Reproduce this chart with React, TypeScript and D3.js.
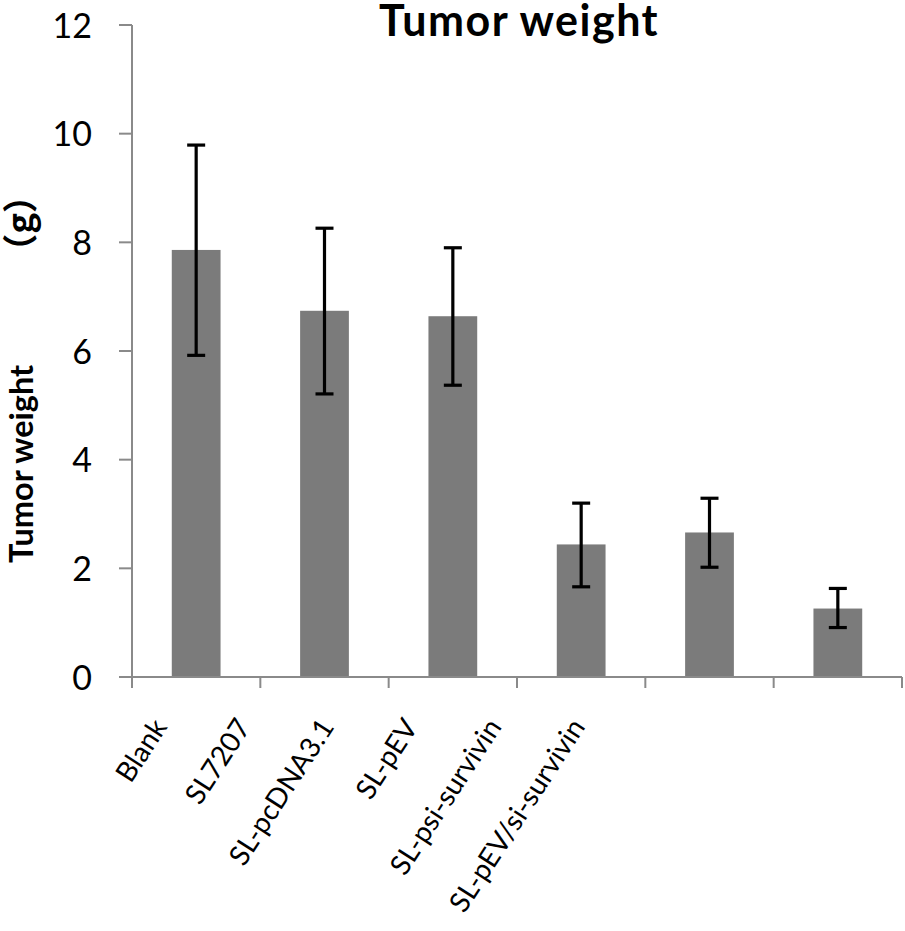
import * as d3 from 'd3';

const categories = ['Blank', 'SL7207', 'SL-pcDNA3.1', 'SL-pEV', 'SL-psi-survivin', 'SL-pEV/si-survivin'];
const means = [7.86, 6.74, 6.64, 2.44, 2.66, 1.26];
const errLow = [5.92, 5.21, 5.37, 1.66, 2.02, 0.91];
const errHigh = [9.79, 8.26, 7.9, 3.2, 3.29, 1.63];
const yTicks = [0, 2, 4, 6, 8, 10, 12];

const W = 905;
const H = 931;
const FONT = 'Lato, Carlito, Calibri, sans-serif';
const CJK = "'Noto Sans CJK SC', sans-serif";

export default function App() {
  const left = 132;
  const right = 902;
  const top = 25;
  const bottom = 677;

  const x = d3.scaleBand<string>().domain(categories).range([left, right]).paddingInner(0.62).paddingOuter(0.31);
  const y = d3.scaleLinear().domain([0, 12]).range([bottom, top]);
  // labels sit on a tighter spacing than the bars in the original figure
  const labelX = d3.scalePoint<string>().domain(categories).range([168, 586]);
  const step = (right - left) / categories.length;
  const boundaries = d3.range(categories.length + 1).map((i) => left + i * step);
  const axisColor = '#8a8a8a';
  const capW = 9;

  return (
    <svg width={W} height={H} style={{ position: 'absolute', left: 0, top: 0, background: '#fff' }}>
      <text
        x={519}
        y={36}
        textAnchor="middle"
        fontFamily={FONT}
        fontWeight="bold"
        fontSize={43}
        letterSpacing={1.5}
        fill="#000"
      >
        Tumor weight
      </text>

      <text
        transform={`translate(33,563) rotate(-90)`}
        textAnchor="start"
        fontFamily={FONT}
        fontWeight="bold"
        fontSize={32.5}
        fill="#000"
      >
        Tumor weight
        <tspan fontFamily={CJK} fontSize={35} dx={96}>
          （g）
        </tspan>
      </text>

      {categories.map((c, i) => (
        <rect key={c} x={x(c)} y={y(means[i])} width={x.bandwidth()} height={bottom - y(means[i])} fill="#7b7b7b" />
      ))}

      {categories.map((c, i) => {
        const cx = (x(c) ?? 0) + x.bandwidth() / 2;
        return (
          <g key={c} stroke="#000" strokeWidth={3.2}>
            <line x1={cx} x2={cx} y1={y(errLow[i])} y2={y(errHigh[i])} />
            <line x1={cx - capW} x2={cx + capW} y1={y(errLow[i])} y2={y(errLow[i])} />
            <line x1={cx - capW} x2={cx + capW} y1={y(errHigh[i])} y2={y(errHigh[i])} />
          </g>
        );
      })}

      <g stroke={axisColor} strokeWidth={2}>
        <line x1={left} x2={left} y1={top} y2={bottom} />
        <line x1={left - 13} x2={right} y1={bottom} y2={bottom} />
        {yTicks.map((t) => (
          <line key={t} x1={left - 13} x2={left} y1={y(t)} y2={y(t)} />
        ))}
        {boundaries.map((b, i) => (
          <line key={i} x1={b} x2={b} y1={bottom} y2={bottom + 11} />
        ))}
      </g>

      {yTicks.map((t) => (
        <text key={t} x={92} y={y(t) + 12.5} textAnchor="end" fontFamily={FONT} fontSize={34} fill="#000">
          {t}
        </text>
      ))}

      {categories.map((c) => (
        <text
          key={c}
          transform={`translate(${labelX(c)},727) rotate(-57)`}
          textAnchor="end"
          fontFamily={FONT}
          fontSize={28}
          fill="#000"
        >
          {c}
        </text>
      ))}
    </svg>
  );
}
